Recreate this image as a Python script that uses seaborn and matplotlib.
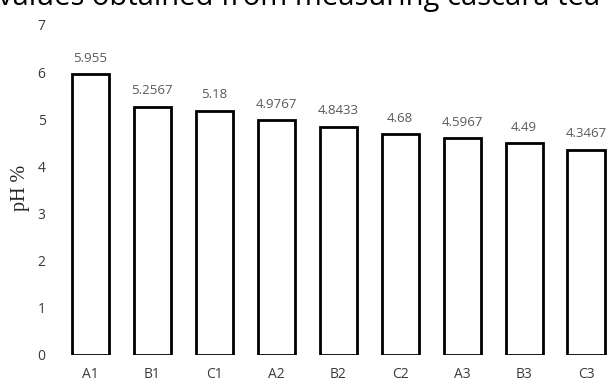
import matplotlib
matplotlib.use("Agg")
import matplotlib.pyplot as plt
import seaborn as sns
import pandas as pd

# Treatment codes and their measured pH
treatments = ["A1", "B1", "C1", "A2", "B2", "C2", "A3", "B3", "C3"]
ph_values = [5.955, 5.2567, 5.18, 4.9767, 4.8433, 4.68, 4.5967, 4.49, 4.3467]
value_labels = ["5.955", "5.2567", "5.18", "4.9767", "4.8433", "4.68", "4.5967", "4.49", "4.3467"]
y_ticks = [0, 1, 2, 3, 4, 5, 6, 7]

df = pd.DataFrame({"treatment": treatments, "ph": ph_values})

sns.set_theme(style="white")
plt.rcParams["font.family"] = ["Open Sans", "DejaVu Sans"]

fig = plt.figure(figsize=(6.08, 3.83), dpi=100)
W, H = 608, 383
left, right = 59.5, 617
bottom, top = 355, 25
ax = fig.add_axes([left / W, (H - bottom) / H, (right - left) / W, (bottom - top) / H])

sns.barplot(data=df, x="treatment", y="ph", ax=ax, color="white",
            edgecolor="black", linewidth=2.0, width=0.6, order=treatments)

for i, (v, lab) in enumerate(zip(ph_values, value_labels)):
    ax.annotate(lab, (i, v), xytext=(0, 7), textcoords="offset points",
                ha="center", va="bottom", fontsize=9.5, color="#595959",
                annotation_clip=False)

ax.set_ylim(0, 7)
ax.set_yticks(y_ticks)
ax.set_yticklabels([str(t) for t in y_ticks])
ax.set_xlim(-0.5, len(treatments) - 0.5)
ax.tick_params(axis="both", length=0, labelsize=10, labelcolor="#3a3a3a")
ax.tick_params(axis="x", pad=9)
ax.tick_params(axis="y", pad=10)
ax.set_xlabel("")
ax.set_ylabel("")
for s in ax.spines.values():
    s.set_visible(False)
ax.grid(False)

fig.text(21 / W, (H - 188) / H, "pH %", rotation=90, ha="center", va="center",
         fontsize=14.5, family=["Liberation Serif", "DejaVu Serif"], color="#262626")

# Title line runs off the top edge of the figure
fig.text(-2 / W, (H - 5) / H, "values obtained from measuring cascara tea caffeine",
         ha="left", va="baseline", fontsize=21, color="black")

fig.savefig("out.png", dpi=100)
